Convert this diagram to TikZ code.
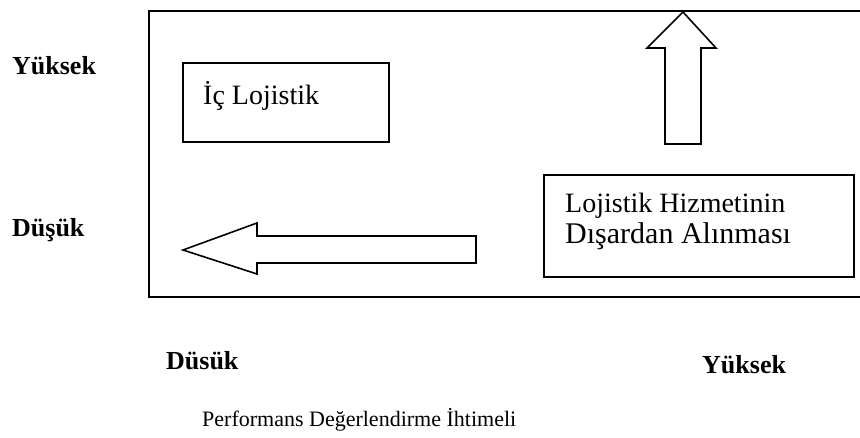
\documentclass[tikz,border=0pt]{standalone}
\usepackage{fontspec}
\setmainfont{Liberation Serif}
\begin{document}
\begin{tikzpicture}[x=1pt,y=-1pt,
  frame/.style={line width=2pt},
  box/.style={draw,line width=2pt,inner sep=0pt},
  blockarrow/.style={draw,line width=1.6pt,fill=white,line join=miter},
  axislabel/.style={anchor=base west,inner sep=0pt,font=\fontsize{26}{30}\selectfont\bfseries},
  boxtext/.style={anchor=base west,inner sep=0pt,font=\fontsize{28}{32}\selectfont},
  caption/.style={anchor=base west,inner sep=0pt,font=\fontsize{22}{26}\selectfont}]
\useasboundingbox (0,0) rectangle (860,438);
% open frame of the chart area
\coordinate (ftr) at (862,11);
\coordinate (ftl) at (149,11);
\coordinate (fbl) at (149,297);
\coordinate (fbr) at (862,297);
\draw[frame] (ftr) -- (ftl) -- (fbl) -- (fbr);
% vertical axis labels
\node[axislabel] (yhigh) at (12,75) {Yüksek};
\node[axislabel] (ylow) at (12,237) {Düşük};
% horizontal axis labels
\node[axislabel] (xlow) at (166,370) {Düsük};
\node[axislabel] (xhigh) at (702,374) {Yüksek};
\node[caption] (xtitle) at (202,427) {Performans Değerlendirme İhtimeli};
% boxes
\node[box,minimum width=206pt,minimum height=79pt] (inner) at (286,102.5) {};
\node[boxtext] (innertxt) at (203,105) {İç Lojistik};
\node[box,minimum width=310pt,minimum height=102pt] (outer) at (699,226.5) {};
\node[boxtext] (outertxt1) at (565,213) {Lojistik Hizmetinin};
\node[boxtext,font=\fontsize{30}{34}\selectfont] (outertxt2) at (565,244) {Dışardan Alınması};
% block arrows
\draw[blockarrow] (683,12) -- (716,48) -- (701,48) -- (701,144) -- (665,144) -- (665,48) -- (647,48) -- cycle;
\draw[blockarrow] (183,250) -- (257,223) -- (257,236) -- (476,236) -- (476,263) -- (257,263) -- (257,274) -- cycle;
\end{tikzpicture}
\end{document}
